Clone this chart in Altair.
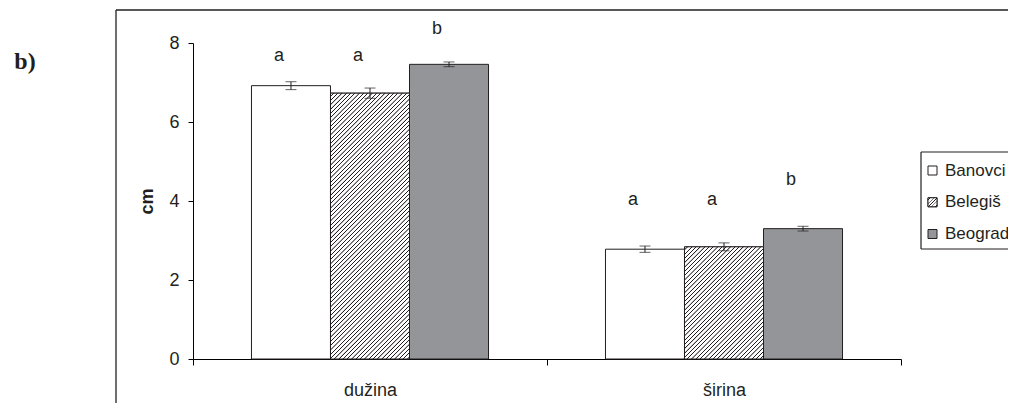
import altair as alt
import pandas as pd

# ---------------- data ----------------
categories = ["dužina", "širina"]
series = ["Banovci", "Belegiš", "Beograd"]
mean_duzina = [6.92, 6.73, 7.46]
mean_sirina = [2.78, 2.84, 3.30]
se_duzina = [0.10, 0.13, 0.06]
se_sirina = [0.08, 0.10, 0.06]
letters_duzina = ["a", "a", "b"]
letters_sirina = ["a", "a", "b"]
letter_pos_duzina = [7.54, 7.54, 8.23]
letter_pos_sirina = [3.90, 3.90, 4.41]
y_ticks = [0, 2, 4, 6, 8]
fills = ["#ffffff", "#ffffff", "#939598"]
hatched_series = "Belegiš"
panel_label = "b)"
y_title = "cm"

# ---------------- layout ----------------
W, H = 708, 316
YMAX = 8
PAD_OUTER = 0.74
INK = "#231f20"
FONT = "Liberation Sans"
FS = 18
bar_w = (W / len(categories)) / (len(series) + 2 * PAD_OUTER)

rows = []
for c, means, ses, lets, lpos in [
    (categories[0], mean_duzina, se_duzina, letters_duzina, letter_pos_duzina),
    (categories[1], mean_sirina, se_sirina, letters_sirina, letter_pos_sirina),
]:
    for s, m, e, l, lp in zip(series, means, ses, lets, lpos):
        rows.append(dict(cat=c, ser=s, val=m, lo=m - e, hi=m + e, let=l, lpos=lp))
df = pd.DataFrame(rows)


def hatch(w, h, period=4.3):
    a = w * (w + h) / (w * w + h * h)
    b = h * (w + h) / (w * w + h * h)
    P = period / (w + h)
    stops = []
    k = 0
    while k * P < 1:
        s0 = k * P
        for off, col in [(0, "#ffffff"), (0.55, "#ffffff"), (0.65, INK),
                         (0.80, INK), (0.90, "#ffffff")]:
            stops.append(alt.GradientStop(offset=min(1.0, s0 + off * P), color=col))
        k += 1
    return alt.LinearGradient(gradient="linear", x1=0, y1=0, x2=a, y2=b, stops=stops)


X = alt.X("cat:N", sort=categories,
          scale=alt.Scale(paddingInner=0, paddingOuter=0),
          axis=alt.Axis(title=None, labelAngle=0, tickBand="extent", tickSize=6,
                        labelPadding=16, domainColor="black", tickColor="black",
                        labelFont=FONT, labelFontSize=FS, labelColor=INK, grid=False))
XO = alt.XOffset("ser:N", sort=series,
                 scale=alt.Scale(domain=series, paddingInner=0, paddingOuter=PAD_OUTER))
YSC = alt.Scale(domain=[0, YMAX], nice=False)
Y = alt.Y("val:Q", scale=YSC,
          axis=alt.Axis(values=y_ticks, tickSize=5, labelPadding=9, grid=False,
                        domainColor="black", tickColor="black", labelFont=FONT,
                        labelFontSize=FS, labelColor=INK, title=y_title,
                        titleFont=FONT, titleFontSize=FS, titleFontWeight="bold",
                        titleColor=INK, titlePadding=12))

base = alt.Chart(df)
bars = base.mark_bar(stroke=INK, strokeWidth=1).encode(
    x=X, xOffset=XO, y=Y,
    fill=alt.Fill("ser:N", scale=alt.Scale(domain=series, range=fills), legend=None),
)
hatch_layers = []
for c in categories:
    sub = df[(df.ser == hatched_series) & (df.cat == c)]
    h = float(sub.val.iloc[0]) * H / YMAX
    hatch_layers.append(
        alt.Chart(sub).mark_bar(stroke=INK, strokeWidth=1, fill=hatch(bar_w, h)).encode(
            x=X, xOffset=XO, y=alt.Y("val:Q", scale=YSC)))

rule = base.mark_rule(color=INK, strokeWidth=1).encode(
    x=X, xOffset=XO, y=alt.Y("lo:Q", scale=YSC), y2="hi:Q")
cap_lo = base.mark_tick(color=INK, size=11, thickness=1).encode(
    x=X, xOffset=XO, y=alt.Y("lo:Q", scale=YSC))
cap_hi = base.mark_tick(color=INK, size=11, thickness=1).encode(
    x=X, xOffset=XO, y=alt.Y("hi:Q", scale=YSC))
letters = base.mark_text(font=FONT, fontSize=FS, color=INK, baseline="alphabetic",
                         dx=-12).encode(
    x=X, xOffset=XO, y=alt.Y("lpos:Q", scale=YSC), text="let:N")

main = alt.layer(bars, *hatch_layers, rule, cap_lo, cap_hi, letters)

# ---------------- legend ----------------
ldf = pd.DataFrame(dict(ser=series, fill=fills))
LY = alt.Y("ser:N", sort=series, axis=None,
           scale=alt.Scale(type="point", domain=series, range=[127.5, 191], padding=0))
one = ldf.head(1)
leg_top = alt.Chart(one).mark_rule(color=INK, strokeWidth=1.2).encode(
    x=alt.value(728), x2=alt.value(815), y=alt.value(109))
leg_bot = alt.Chart(one).mark_rule(color=INK, strokeWidth=1.2).encode(
    x=alt.value(728), x2=alt.value(815), y=alt.value(206))
leg_left = alt.Chart(one).mark_rule(color=INK, strokeWidth=1.2).encode(
    x=alt.value(728), y=alt.value(109), y2=alt.value(206))
leg_sw = alt.Chart(ldf).mark_square(size=81, stroke=INK, strokeWidth=1, opacity=1).encode(
    x=alt.value(739.5), y=LY,
    fill=alt.Fill("ser:N", scale=alt.Scale(domain=series, range=fills), legend=None))
leg_hatch = alt.Chart(ldf[ldf.ser == hatched_series]).mark_square(
    size=81, stroke=INK, strokeWidth=1, opacity=1, fill=hatch(9, 9, 3.4)).encode(
    x=alt.value(739.5), y=LY)
leg_txt = alt.Chart(ldf).mark_text(font=FONT, fontSize=17, color=INK, align="left",
                                   baseline="middle").encode(
    x=alt.value(752), y=LY, text="ser:N")
legend = alt.layer(leg_top, leg_bot, leg_left, leg_sw, leg_hatch, leg_txt)

# ---------------- decorations ----------------
ddf = pd.DataFrame(dict(t=[panel_label]))
frame_top = alt.Chart(ddf).mark_rule(color=INK, strokeWidth=1.3).encode(
    x=alt.value(-77), x2=alt.value(815), y=alt.value(-33))
frame_left = alt.Chart(ddf).mark_rule(color=INK, strokeWidth=1.3).encode(
    x=alt.value(-77), y=alt.value(-33), y2=alt.value(420))
plabel = alt.Chart(ddf).mark_text(font="Liberation Serif", fontSize=24, fontWeight="bold",
                                  color=INK, align="center", baseline="alphabetic").encode(
    x=alt.value(-168), y=alt.value(26), text="t:N")
deco = alt.layer(frame_top, frame_left, plabel)

chart = alt.layer(main, legend, deco).resolve_scale(
    y="independent", fill="independent"
).properties(
    width=W, height=H,
    autosize=alt.AutoSizeParams(type="none"),
    padding={"left": 185, "top": 35, "right": 107, "bottom": 44},
).configure_view(stroke=None)

chart.save("out.html", embed_options={"renderer": "svg", "actions": False})
